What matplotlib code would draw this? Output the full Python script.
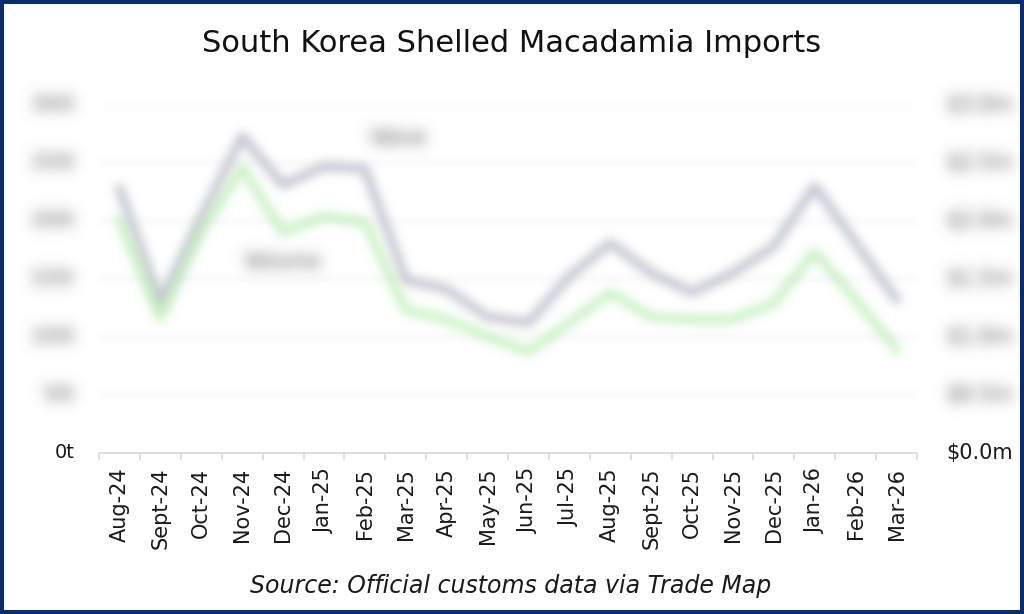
import numpy as np
import matplotlib
matplotlib.use("Agg")
import matplotlib.pyplot as plt
from matplotlib.patches import Rectangle
from matplotlib import transforms

# ---- data ----
months = ["Aug-24", "Sept-24", "Oct-24", "Nov-24", "Dec-24", "Jan-25", "Feb-25",
          "Mar-25", "Apr-25", "May-25", "Jun-25", "Jul-25", "Aug-25", "Sept-25",
          "Oct-25", "Nov-25", "Dec-25", "Jan-26", "Feb-26", "Mar-26"]
volume_t = [201, 116, 191, 246, 190, 204, 199, 123, 115, 100, 87, 112, 138,
            117, 115, 115, 129, 173, 132, 89]
value_m = [2.28, 1.29, 2.03, 2.73, 2.31, 2.47, 2.45, 1.49, 1.41, 1.17, 1.12,
           1.52, 1.81, 1.55, 1.38, 1.55, 1.78, 2.30, 1.81, 1.32]
vol_ticks = [0, 50, 100, 150, 200, 250, 300]
vol_labels = ["0t", "50t", "100t", "150t", "200t", "250t", "300t"]
val_ticks = [0.0, 0.5, 1.0, 1.5, 2.0, 2.5, 3.0]
val_labels = ["$0.0m", "$0.5m", "$1.0m", "$1.5m", "$2.0m", "$2.5m", "$3.0m"]
title = "South Korea Shelled Macadamia Imports"
source = "Source: Official customs data via Trade Map"


# ---- blur filter (agg_filter) ----
class Blur:
    def __init__(self, sigma, color, strength=1.0):
        self.sigma = sigma
        self.rgb = np.array(matplotlib.colors.to_rgb(color))
        self.strength = strength

    def __call__(self, im, dpi):
        s = self.sigma
        r = int(3 * s) + 1
        x = np.arange(-r, r + 1)
        k = np.exp(-x ** 2 / (2.0 * s * s))
        k /= k.sum()
        a = np.pad(im[:, :, 3], r)
        a = np.apply_along_axis(lambda v: np.convolve(v, k, mode="same"), 0, a)
        a = np.apply_along_axis(lambda v: np.convolve(v, k, mode="same"), 1, a)
        out = np.empty(a.shape + (4,))
        out[..., :3] = self.rgb
        out[..., 3] = np.clip(a * self.strength, 0, 1)
        return out, -r, -r


W, H = 1024, 614
fig = plt.figure(figsize=(W / 100, H / 100), dpi=100)
fig.patch.set_facecolor("white")

ax_l, ax_r, ax_b, ax_t = 99, 917, 452.5, 105
ax = fig.add_axes([ax_l / W, 1 - ax_b / H, (ax_r - ax_l) / W, (ax_b - ax_t) / H])
ax2 = ax.twinx()

x = np.arange(len(months))
ax.set_xlim(-0.5, len(months) - 0.5)
ax.set_ylim(0, 300)
ax2.set_ylim(0, 3.0)

for a in (ax, ax2):
    for sp in a.spines.values():
        sp.set_visible(False)
ax.spines["bottom"].set_visible(True)
ax.spines["bottom"].set_color("#D9D9D9")
ax.spines["bottom"].set_linewidth(1.2)

# gridlines (blurred)
for yv in vol_ticks[1:]:
    gl = ax.axhline(yv, color="#C8C8C8", lw=1.2, zorder=0)
    gl.set_agg_filter(Blur(3.0, "#C8C8C8", 0.3))

# lines (blurred)
l1, = ax2.plot(x, value_m, color="#B0B2C0", lw=5.5, solid_joinstyle="round")
l1.set_agg_filter(Blur(5.0, "#A8AABA", 0.8))
l2, = ax.plot(x, volume_t, color="#B4ECAC", lw=5.5, solid_joinstyle="round")
l2.set_agg_filter(Blur(5.0, "#A8E8A0", 0.72))
ax.set_zorder(ax2.get_zorder() + 1)
ax.patch.set_visible(False)

# x ticks
ax.set_xticks(x)
ax.set_xticklabels(months, rotation=90, fontsize=15, family="DejaVu Sans",
                   color="#1A1A1A")
ax.tick_params(axis="x", which="major", length=0, pad=11)
ax.set_xticks(np.arange(-0.5, len(months)), minor=True)
ax.tick_params(axis="x", which="minor", length=5, width=1.2, color="#D9D9D9")
ax.set_yticks([])
ax2.set_yticks([])

# y labels
blur_lab = dict(sigma=7.0, color="#A6A6A6", strength=2.0)
tl = transforms.blended_transform_factory(fig.transFigure, ax.transData)
tr = transforms.blended_transform_factory(fig.transFigure, ax2.transData)
for yv, lab in zip(vol_ticks, vol_labels):
    t = fig.text(75 / W, yv, lab, transform=tl, ha="right", va="center",
                 fontsize=14, color="#1A1A1A")
    if yv != 0:
        t.set_agg_filter(Blur(**blur_lab))
for yv, lab in zip(val_ticks, val_labels):
    t = fig.text(946 / W, yv, lab, transform=tr, ha="left", va="center",
                 fontsize=15, color="#1A1A1A")
    if yv != 0:
        t.set_agg_filter(Blur(**blur_lab))

# series labels (blurred)
t = fig.text(398 / W, 1 - 138 / H, "Value", ha="center", va="center",
             fontsize=15, color="#595959")
t.set_agg_filter(Blur(**blur_lab))
t = fig.text(283 / W, 1 - 262 / H, "Volume", ha="center", va="center",
             fontsize=15, color="#595959")
t.set_agg_filter(Blur(**blur_lab))

# title / source
fig.text(512 / W, 1 - 44 / H, title, ha="center", va="center", fontsize=22,
         color="#111111")
fig.text(511 / W, 1 - 586 / H, source, ha="center", va="center", fontsize=17,
         style="italic", color="#1A1A1A")

# border
fig.patches.append(Rectangle((0, 0), 1, 1, transform=fig.transFigure,
                             fill=False, edgecolor="#0B2D6B", lw=5.8,
                             zorder=10))

fig.savefig("out.png", dpi=100, facecolor="white")
